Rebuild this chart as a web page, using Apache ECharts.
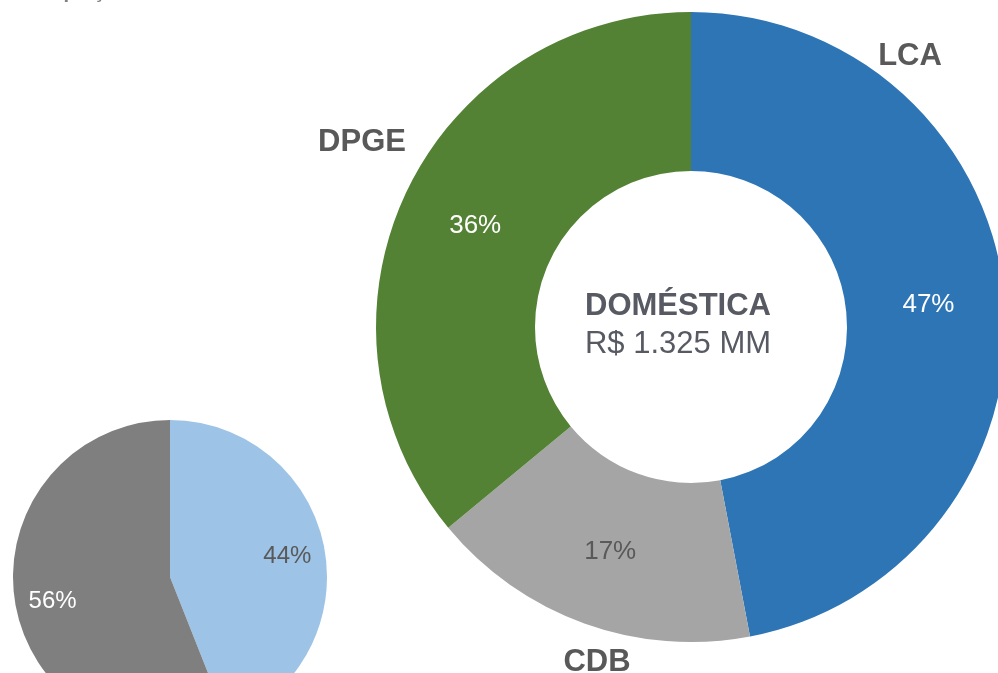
<!DOCTYPE html>
<html>
<head>
<meta charset="utf-8">
<script src="https://cdn.jsdelivr.net/npm/echarts@6/dist/echarts.min.js"></script>
<style>
  html, body { margin: 0; padding: 0; background: #fff; }
  #myChart { width: 998px; height: 673px; }
</style>
</head>
<body>
<div id="myChart"></div>
<script>
// dados
const domesticaNomes = ['LCA', 'CDB', 'DPGE'];
const domesticaValores = [47, 17, 36];
const domesticaCores = ['#2E75B6', '#A5A5A5', '#548235'];
const domesticaCorRotulo = ['#ffffff', '#595959', '#ffffff'];

const externaNomes = ['A', 'B'];
const externaValores = [44, 56];
const externaCores = ['#9DC3E6', '#7F7F7F'];
const externaCorRotulo = ['#595959', '#ffffff'];

const centroTitulo = 'DOMÉSTICA';
const centroValor = 'R$ 1.325 MM';
const tituloTopo = 'Captação Externa';

// posições dos nomes fora da rosca
const nomesPos = [[910, 56], [597, 662], [362, 142]];

const myChart = echarts.init(document.getElementById('myChart'));
const fonte = '"Liberation Sans", Arial, sans-serif';

function montaDados (nomes, valores, cores, corRotulo, comRotulo) {
  return nomes.map(function (n, i) {
    return {
      name: n,
      value: valores[i],
      itemStyle: { color: comRotulo === 'so' ? 'rgba(0,0,0,0)' : cores[i] },
      label: { color: corRotulo[i], show: comRotulo !== 'nao' }
    };
  });
}

myChart.setOption({
  animation: false,
  graphic: [
    {
      type: 'text',
      left: 38,
      top: -18,
      style: { text: tituloTopo, fontSize: 20, fontWeight: 'bold', fill: '#7F8080', fontFamily: fonte }
    },
    {
      type: 'text',
      x: 678,
      y: 306,
      style: { text: centroTitulo, fontSize: 31, fontWeight: 'bold', fill: '#575A62', fontFamily: fonte, align: 'center', verticalAlign: 'middle' }
    },
    {
      type: 'text',
      x: 678,
      y: 344,
      style: { text: centroValor, fontSize: 31, fill: '#575A62', fontFamily: fonte, align: 'center', verticalAlign: 'middle' }
    }
  ].concat(domesticaNomes.map(function (n, i) {
    return {
      type: 'text',
      x: nomesPos[i][0],
      y: nomesPos[i][1],
      style: { text: n, fontSize: 31, fontWeight: 'bold', fill: '#595959', fontFamily: fonte, align: 'center', verticalAlign: 'middle' }
    };
  })),
  series: [
    {
      type: 'pie',
      center: [691, 327],
      radius: [156, 315],
      startAngle: 90,
      clockwise: true,
      silent: true,
      label: {
        position: 'inside',
        formatter: '{c}%',
        fontSize: 26,
        fontFamily: fonte
      },
      labelLine: { show: false },
      itemStyle: { borderWidth: 0 },
      data: montaDados(domesticaNomes, domesticaValores, domesticaCores, domesticaCorRotulo, 'sim')
    },
    {
      type: 'pie',
      center: [170, 577],
      radius: [0, 157],
      startAngle: 90,
      clockwise: true,
      silent: true,
      labelLine: { show: false },
      itemStyle: { borderWidth: 0 },
      data: montaDados(externaNomes, externaValores, externaCores, externaCorRotulo, 'nao')
    },
    {
      // só os rótulos da pizza pequena, num anel transparente
      type: 'pie',
      center: [170, 579],
      radius: [76, 157],
      startAngle: 90,
      clockwise: true,
      silent: true,
      label: {
        position: 'inside',
        formatter: '{c}%',
        fontSize: 24,
        fontFamily: fonte
      },
      labelLine: { show: false },
      itemStyle: { borderWidth: 0 },
      data: montaDados(externaNomes, externaValores, externaCores, externaCorRotulo, 'so')
    }
  ]
});
</script>
</body>
</html>
